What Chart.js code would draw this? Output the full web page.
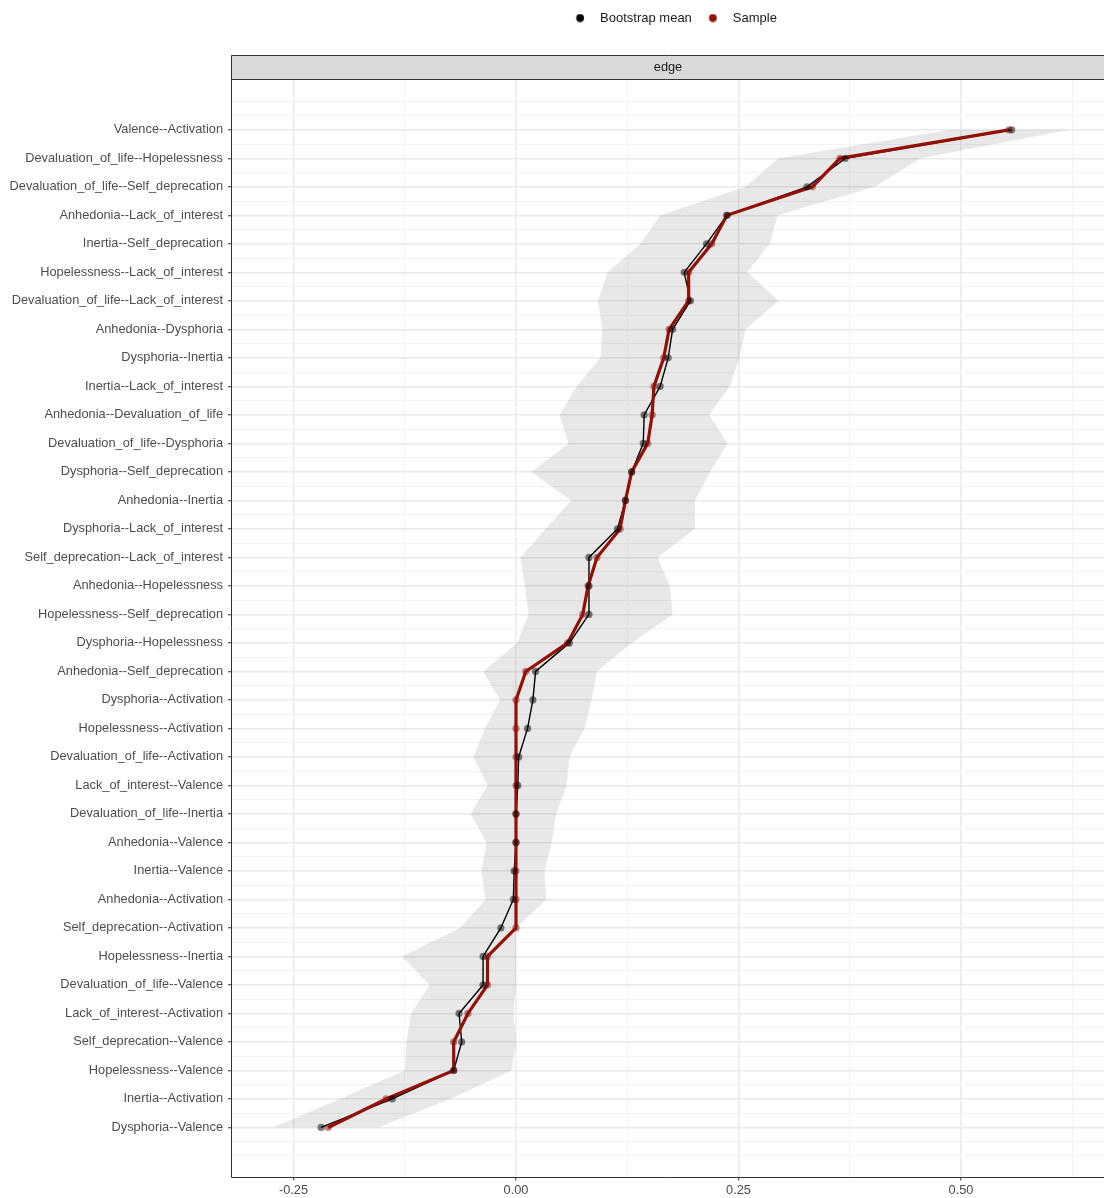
<!DOCTYPE html>
<html>
<head>
<meta charset="utf-8">
<title>edge</title>
<script src="https://cdn.jsdelivr.net/npm/chart.js@4.4.1/dist/chart.umd.min.js"></script>
<style>
  html, body { margin: 0; padding: 0; background: #ffffff; }
  #wrap { width: 1104px; height: 1198px; }
</style>
</head>
<body>
<div id="wrap"><canvas id="chart" width="1104" height="1198"></canvas></div>
<script>
// Edges, ordered top to bottom
const edges = [
  'Valence--Activation',
  'Devaluation_of_life--Hopelessness',
  'Devaluation_of_life--Self_deprecation',
  'Anhedonia--Lack_of_interest',
  'Inertia--Self_deprecation',
  'Hopelessness--Lack_of_interest',
  'Devaluation_of_life--Lack_of_interest',
  'Anhedonia--Dysphoria',
  'Dysphoria--Inertia',
  'Inertia--Lack_of_interest',
  'Anhedonia--Devaluation_of_life',
  'Devaluation_of_life--Dysphoria',
  'Dysphoria--Self_deprecation',
  'Anhedonia--Inertia',
  'Dysphoria--Lack_of_interest',
  'Self_deprecation--Lack_of_interest',
  'Anhedonia--Hopelessness',
  'Hopelessness--Self_deprecation',
  'Dysphoria--Hopelessness',
  'Anhedonia--Self_deprecation',
  'Dysphoria--Activation',
  'Hopelessness--Activation',
  'Devaluation_of_life--Activation',
  'Lack_of_interest--Valence',
  'Devaluation_of_life--Inertia',
  'Anhedonia--Valence',
  'Inertia--Valence',
  'Anhedonia--Activation',
  'Self_deprecation--Activation',
  'Hopelessness--Inertia',
  'Devaluation_of_life--Valence',
  'Lack_of_interest--Activation',
  'Self_deprecation--Valence',
  'Hopelessness--Valence',
  'Inertia--Activation',
  'Dysphoria--Valence'
];

// Mean of the bootstrapped edge weights
const bootMean = [
  0.557, 0.370, 0.327, 0.237, 0.214, 0.189, 0.196, 0.176, 0.171, 0.162,
  0.144, 0.143, 0.130, 0.123, 0.114, 0.082, 0.082, 0.082, 0.060, 0.022,
  0.019, 0.013, 0.003, 0.002, 0.000, 0.000, -0.002, -0.003, -0.017, -0.037,
  -0.037, -0.064, -0.061, -0.070, -0.139, -0.219
];

// Edge weights estimated on the full sample
const sampleVal = [
  0.554, 0.364, 0.333, 0.237, 0.220, 0.194, 0.194, 0.172, 0.166, 0.155,
  0.153, 0.148, 0.130, 0.123, 0.117, 0.091, 0.081, 0.075, 0.058, 0.011,
  0.000, 0.000, 0.000, 0.000, 0.000, 0.000, 0.000, 0.000, 0.000, -0.032,
  -0.032, -0.054, -0.070, -0.070, -0.146, -0.211
];

// Bootstrap interval bounds
const ciLower = [
  0.488, 0.295, 0.258, 0.162, 0.140, 0.103, 0.092, 0.097, 0.095, 0.068,
  0.049, 0.059, 0.017, 0.062, 0.033, 0.005, 0.010, 0.014, 0.0015, -0.037,
  -0.018, -0.035, -0.048, -0.032, -0.051, -0.033, -0.039, -0.034, -0.063, -0.128,
  -0.097, -0.118, -0.123, -0.125, -0.198, -0.273
];
const ciUpper = [
  0.622, 0.455, 0.403, 0.294, 0.285, 0.260, 0.295, 0.258, 0.251, 0.240,
  0.217, 0.238, 0.218, 0.201, 0.201, 0.159, 0.173, 0.176, 0.130, 0.091,
  0.085, 0.077, 0.060, 0.057, 0.045, 0.040, 0.032, 0.034, 0.000, 0.000,
  0.000, -0.003, 0.000, -0.005, -0.074, -0.155
];

// Axis breaks
const xMajor = [-0.25, 0, 0.25, 0.5];
const xMinor = [-0.125, 0.125, 0.375, 0.625];

const FONT = "'Liberation Sans', Arial, Helvetica, sans-serif";
Chart.defaults.font.family = FONT;

const RED = '#921008';
const pts = vals => vals.map((v, i) => ({ x: v, y: i }));

// Legend key: a small filled dot, set slightly right of the key box centre
function dot(color) {
  const c = document.createElement('canvas');
  c.width = 17; c.height = 9;
  const g = c.getContext('2d');
  g.fillStyle = color;
  g.beginPath();
  g.arc(12.25, 4.5, 3.9, 0, Math.PI * 2);
  g.fill();
  return c;
}

// Grey strip above the panel and the panel frame
const panelFrame = {
  id: 'panelFrame',
  beforeDraw(chart) {
    const { ctx, chartArea: a } = chart;
    const top = Math.round(a.top);
    const left = Math.round(a.left);
    const stripTop = top - 25;
    ctx.save();
    ctx.fillStyle = '#d9d9d9';
    ctx.fillRect(left, stripTop, chart.width - left, top - stripTop);
    ctx.strokeStyle = '#333333';
    ctx.lineWidth = 1;
    ctx.beginPath();
    ctx.moveTo(chart.width, stripTop + 0.5);
    ctx.lineTo(left - 0.5, stripTop + 0.5);
    ctx.lineTo(left - 0.5, top);
    ctx.stroke();
    ctx.restore();
  },
  afterDraw(chart) {
    const { ctx, chartArea: a } = chart;
    const top = Math.round(a.top);
    const left = Math.round(a.left);
    const bottom = Math.round(a.bottom);
    ctx.save();
    ctx.strokeStyle = '#333333';
    ctx.lineWidth = 1;
    ctx.beginPath();
    ctx.moveTo(chart.width, top - 0.5);
    ctx.lineTo(left - 0.5, top - 0.5);
    ctx.lineTo(left - 0.5, bottom + 0.5);
    ctx.lineTo(chart.width, bottom + 0.5);
    ctx.stroke();
    ctx.restore();
  }
};

const yTicks = [];
for (let v = -1; v <= 36; v += 0.5) yTicks.push(v);
const xTicks = xMajor.concat(xMinor).sort((a, b) => a - b);
const isRow = v => Number.isInteger(v) && v >= 0 && v < edges.length;
const isMajorX = v => xMajor.some(m => Math.abs(m - v) < 1e-9);

new Chart(document.getElementById('chart'), {
  type: 'line',
  data: {
    datasets: [
      { label: 'lower', data: pts(ciLower), borderWidth: 0, pointRadius: 0,
        fill: '+1', backgroundColor: 'rgba(0,0,0,0.09)', order: 10 },
      { label: 'upper', data: pts(ciUpper), borderWidth: 0, pointRadius: 0,
        fill: false, order: 11 },
      { label: 'Bootstrap mean line', data: pts(bootMean), borderColor: '#000000',
        borderWidth: 1.4, pointRadius: 0, fill: false, order: 4 },
      { label: 'Sample line', data: pts(sampleVal), borderColor: RED,
        borderWidth: 3.2, pointRadius: 0, fill: false, order: 3 },
      { label: 'Sample', data: pts(sampleVal), showLine: false, pointRadius: 3.6,
        pointBackgroundColor: 'rgba(146,16,8,0.5)', pointBorderWidth: 0, order: 2 },
      { label: 'Bootstrap mean', data: pts(bootMean), showLine: false, pointRadius: 3.6,
        pointBackgroundColor: 'rgba(0,0,0,0.5)', pointBorderWidth: 0, order: 1 }
    ]
  },
  options: {
    indexAxis: 'y',
    responsive: false,
    animation: false,
    devicePixelRatio: 1,
    layout: { autoPadding: false, padding: { top: 11.5, left: 0, right: 0, bottom: 0 } },
    elements: { line: { tension: 0 } },
    scales: {
      x: {
        type: 'linear',
        position: 'bottom',
        min: -0.3191,
        max: 0.6607,
        bounds: 'data',
        afterBuildTicks: s => { s.ticks = xTicks.map(v => ({ value: v })); },
        afterFit: s => { s.height = 21.5; },
        border: { display: false },
        grid: {
          color: c => isMajorX(c.tick.value) ? '#ebebeb' : '#f3f3f3',
          lineWidth: c => isMajorX(c.tick.value) ? 1.5 : 1,
          tickColor: c => isMajorX(c.tick.value) ? '#333333' : 'rgba(0,0,0,0)',
          tickWidth: 1,
          tickLength: 4
        },
        ticks: {
          autoSkip: false,
          maxRotation: 0,
          padding: 2,
          color: '#4d4d4d',
          font: { size: 12.8 },
          callback: v => isMajorX(v) ? v.toFixed(2) : ''
        }
      },
      y: {
        type: 'linear',
        position: 'left',
        reverse: true,
        min: -1.75,
        max: 36.72,
        bounds: 'data',
        afterBuildTicks: s => { s.ticks = yTicks.map(v => ({ value: v })); },
        afterFit: s => { s.width = 232; },
        border: { display: false },
        grid: {
          color: c => isRow(c.tick.value) ? '#e9e9e9' : '#f2f2f2',
          lineWidth: c => isRow(c.tick.value) ? 1.5 : 1,
          tickColor: c => isRow(c.tick.value) ? '#333333' : 'rgba(0,0,0,0)',
          tickWidth: 1,
          tickLength: 4
        },
        ticks: {
          autoSkip: false,
          padding: 5,
          color: '#4d4d4d',
          font: { size: 12.8 },
          callback: v => isRow(v) ? edges[v] : ''
        }
      }
    },
    plugins: {
      filler: { drawTime: 'beforeDatasetsDraw' },
      tooltip: { enabled: false },
      legend: {
        display: true,
        position: 'top',
        fullSize: false,
        onClick: null,
        labels: {
          usePointStyle: true,
          pointStyleWidth: 34.5,
          padding: 0,
          color: '#1a1a1a',
          font: { size: 13 },
          generateLabels: () => [
            { text: 'Bootstrap mean', pointStyle: dot('#000000'), fillStyle: '#000000',
              strokeStyle: '#000000', lineWidth: 0, hidden: false, datasetIndex: 5, fontColor: '#1a1a1a' },
            { text: 'Sample', pointStyle: dot(RED), fillStyle: RED,
              strokeStyle: RED, lineWidth: 0, hidden: false, datasetIndex: 4, fontColor: '#1a1a1a' }
          ]
        }
      },
      title: {
        display: true,
        text: 'edge',
        position: 'top',
        fullSize: false,
        weight: 500,
        align: 'center',
        color: '#1a1a1a',
        font: { size: 12.8, weight: 'normal' },
        padding: { top: 25.3, bottom: 4.8 }
      }
    }
  },
  plugins: [panelFrame]
});
</script>
</body>
</html>
